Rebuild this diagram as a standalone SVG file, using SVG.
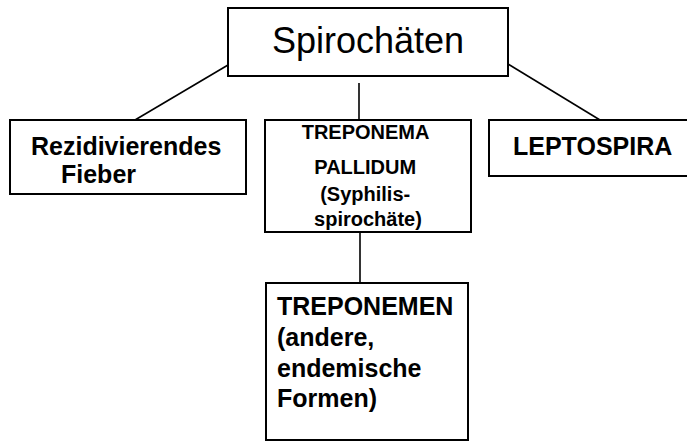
<svg xmlns="http://www.w3.org/2000/svg" width="687" height="441" viewBox="0 0 687 441">
<style>
.box{fill:#fff;stroke:#000;stroke-width:2}
.con{stroke:#000;stroke-width:1.6;fill:none}
text{font-family:"Liberation Sans",Arial,sans-serif;fill:#000}
.b{font-weight:bold}
</style>
<rect width="687" height="441" fill="#fff"/>
<g id="connectors">
<line class="con" x1="228" y1="65" x2="135" y2="120"/>
<line class="con" x1="508" y1="64" x2="600" y2="120"/>
<line class="con" x1="359" y1="83" x2="359" y2="120"/>
<line class="con" x1="360" y1="232" x2="360" y2="283"/>
</g>
<g id="spirochaeten">
<rect class="box" x="228" y="8" width="280" height="68"/>
<text x="368" y="53" font-size="36" text-anchor="middle">Spirochäten</text>
</g>
<g id="rezidivierendes">
<rect class="box" x="10" y="120" width="236" height="74"/>
<text class="b" x="31" y="155" font-size="25">Rezidivierendes</text>
<text class="b" x="61" y="183" font-size="25">Fieber</text>
</g>
<g id="treponema">
<rect class="box" x="265" y="120" width="206" height="112"/>
<text class="b" font-size="20" text-anchor="middle">
<tspan x="368" y="139">TREPONEMA</tspan>
<tspan x="368" y="174">PALLIDUM</tspan>
<tspan x="368" y="201">(Syphilis-</tspan>
<tspan x="368" y="226">spirochäte)</tspan>
</text>
</g>
<g id="leptospira">
<rect class="box" x="489" y="120" width="210" height="56"/>
<text class="b" x="513" y="155" font-size="25">LEPTOSPIRA</text>
</g>
<g id="treponemen">
<rect class="box" x="266" y="283" width="202" height="157"/>
<text class="b" font-size="25">
<tspan x="277" y="315">TREPONEMEN</tspan>
<tspan x="277" y="346">(andere,</tspan>
<tspan x="277" y="377">endemische</tspan>
<tspan x="277" y="407">Formen)</tspan>
</text>
</g>
</svg>
